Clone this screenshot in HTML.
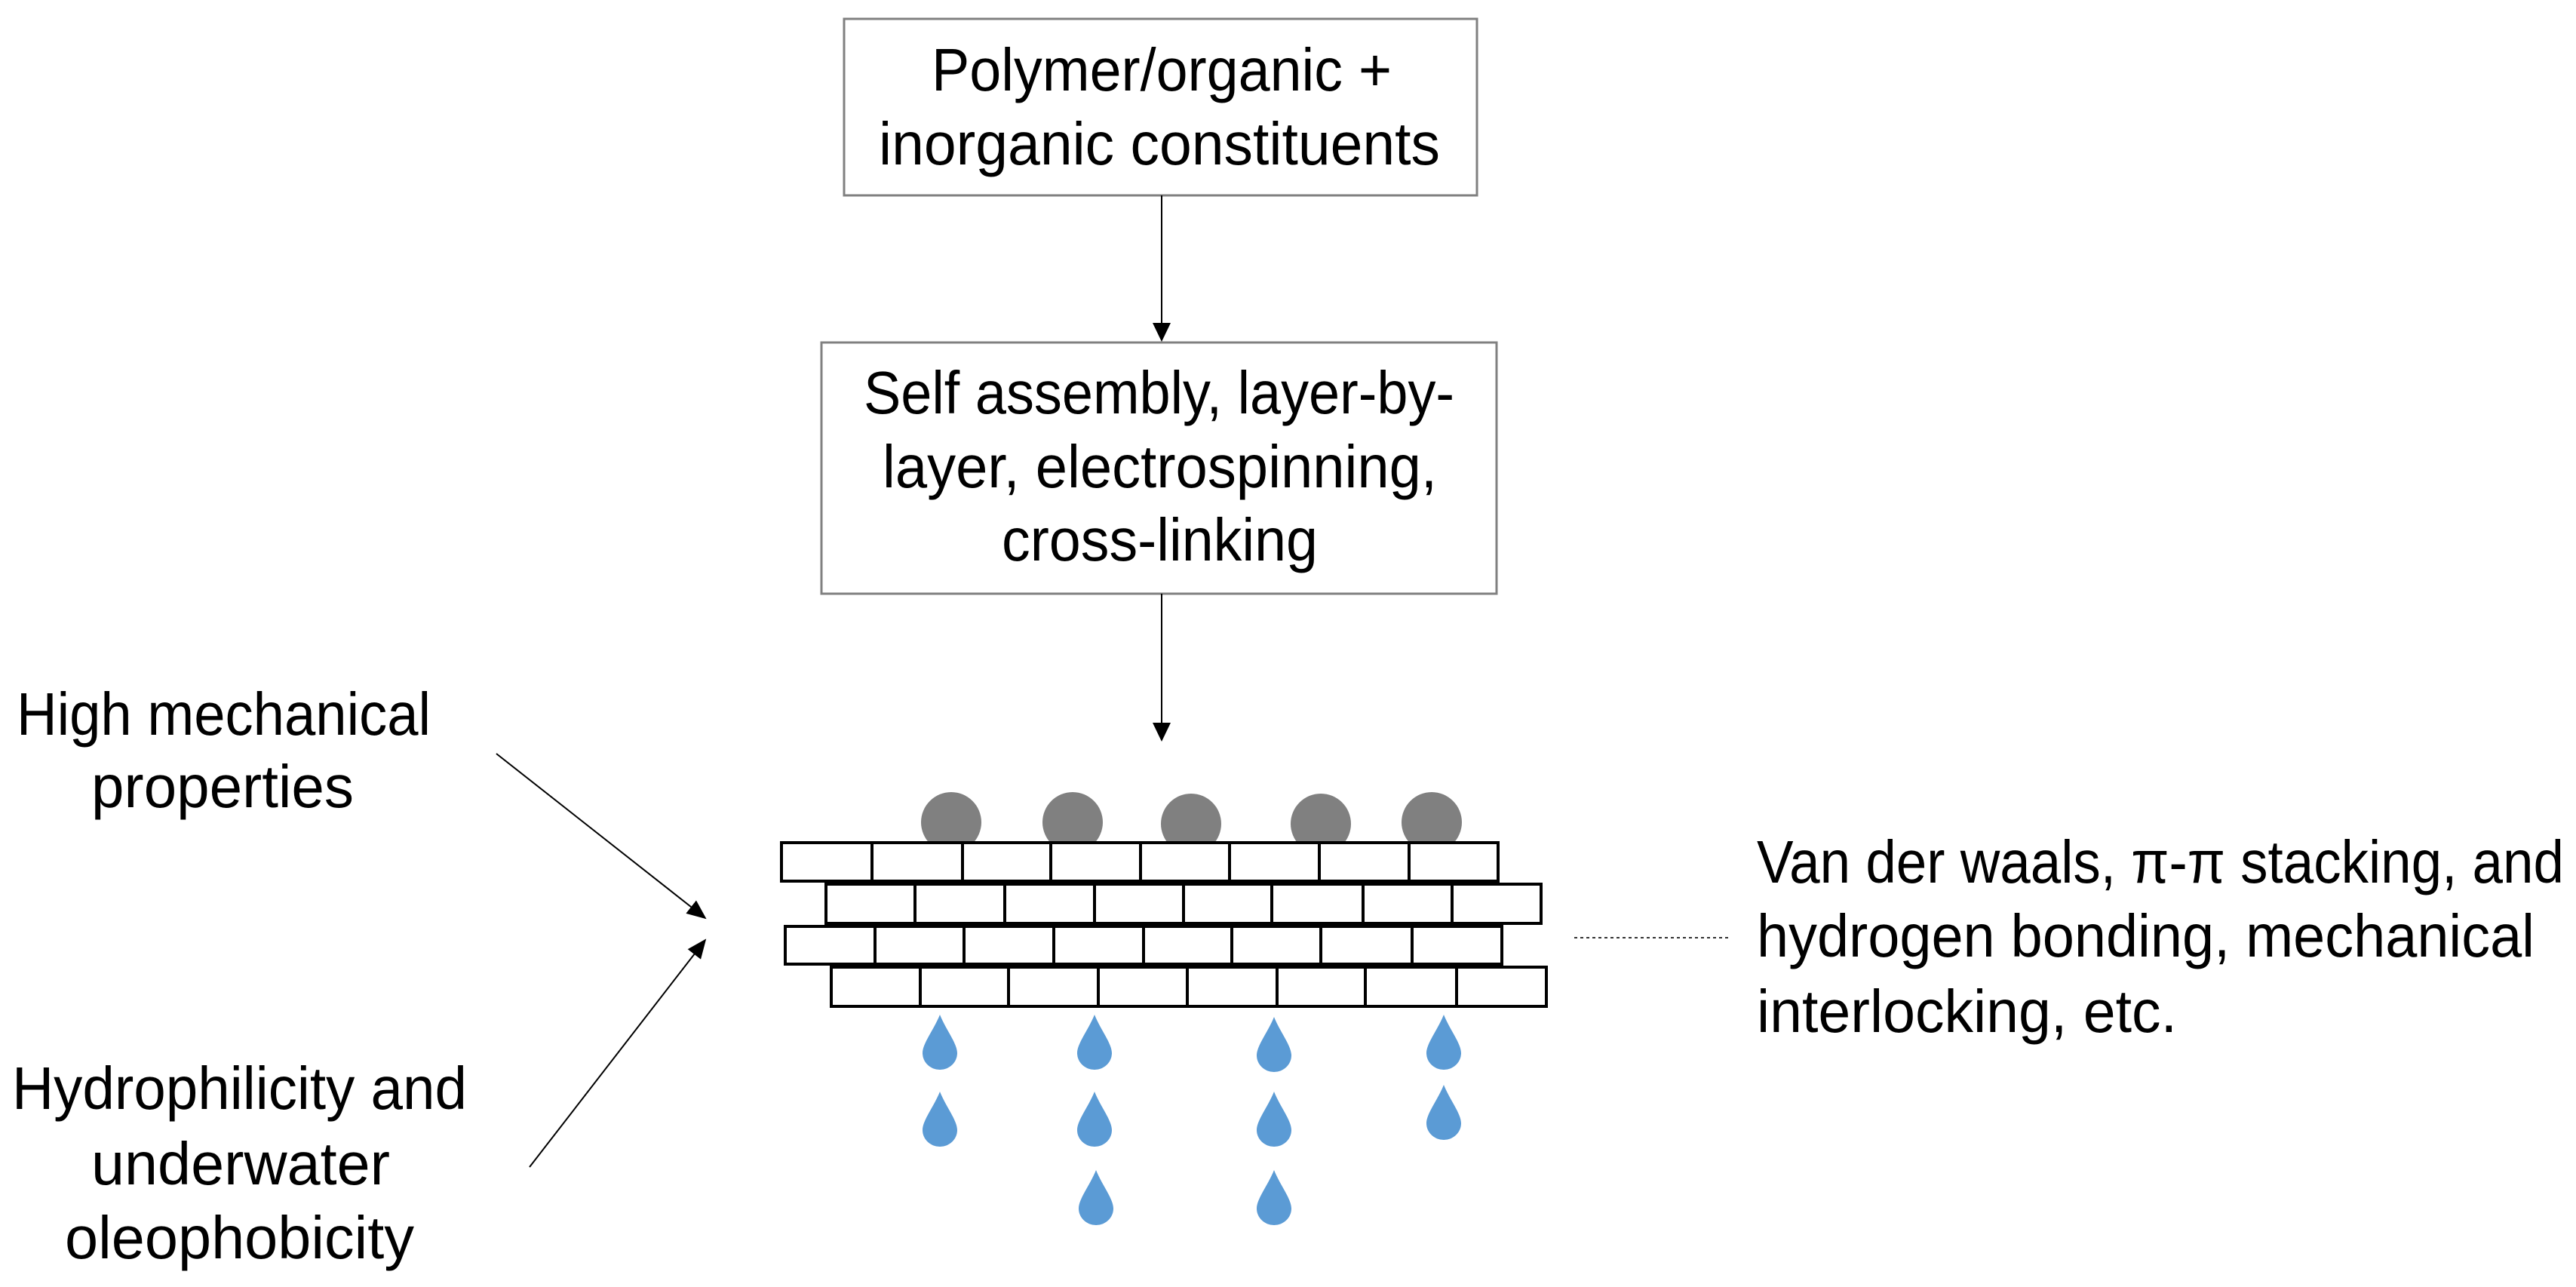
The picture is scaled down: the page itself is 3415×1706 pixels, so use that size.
<!DOCTYPE html>
<html><head><meta charset="utf-8"><style>
html,body{margin:0;padding:0;background:#fff;}
svg{display:block;}
text{font-family:"Liberation Sans",sans-serif;font-size:80px;fill:#000;}
</style></head><body>
<svg width="3415" height="1706" viewBox="0 0 3415 1706" xmlns="http://www.w3.org/2000/svg">
<defs>
<marker id="ah" markerWidth="26" markerHeight="22" refX="24" refY="11" orient="auto" markerUnits="userSpaceOnUse" viewBox="0 0 26 22">
<path d="M0,0 L26,11 L0,22 Z" fill="#000"/>
</marker>
<path id="drop" d="M0,0 C8,20 23,38 23,51 A23,22 0 0 1 -23,51 C-23,38 -8,20 0,0 Z" fill="#5b9bd5"/>
</defs>

<rect x="1119" y="25" width="839" height="234" fill="#fff" stroke="#808080" stroke-width="3"/>
<text x="1235" y="120" textLength="610" lengthAdjust="spacingAndGlyphs">Polymer/organic +</text>
<text x="1165" y="218" textLength="744" lengthAdjust="spacingAndGlyphs">inorganic constituents</text>

<rect x="1089" y="454" width="895" height="333" fill="#fff" stroke="#808080" stroke-width="3"/>
<text x="1145" y="548" textLength="783" lengthAdjust="spacingAndGlyphs">Self assembly, layer-by-</text>
<text x="1170" y="646" textLength="735" lengthAdjust="spacingAndGlyphs">layer, electrospinning,</text>
<text x="1328" y="743" textLength="419" lengthAdjust="spacingAndGlyphs">cross-linking</text>

<path d="M1540,259 L1540,430" stroke="#000" stroke-width="2"/>
<path d="M1528,428 L1552,428 L1540,453 Z" fill="#000"/>
<line x1="1540" y1="787" x2="1540" y2="960" stroke="#000" stroke-width="2"/>
<path d="M1528,958 L1552,958 L1540,983 Z" fill="#000"/>

<g fill="#808080">
<circle cx="1261" cy="1090" r="40"/>
<circle cx="1422" cy="1090" r="40"/>
<circle cx="1579" cy="1092" r="40"/>
<circle cx="1751" cy="1092" r="40"/>
<circle cx="1898" cy="1090" r="40"/>
</g>

<g fill="#fff" stroke="#000" stroke-width="4">
<rect x="1036" y="1117" width="120" height="51"/><rect x="1156" y="1117" width="120" height="51"/><rect x="1276" y="1117" width="117" height="51"/><rect x="1393" y="1117" width="119" height="51"/><rect x="1512" y="1117" width="118" height="51"/><rect x="1630" y="1117" width="119" height="51"/><rect x="1749" y="1117" width="119" height="51"/><rect x="1868" y="1117" width="118" height="51"/>
<rect x="1095" y="1172" width="118" height="52"/><rect x="1213" y="1172" width="119" height="52"/><rect x="1332" y="1172" width="119" height="52"/><rect x="1451" y="1172" width="118" height="52"/><rect x="1569" y="1172" width="117" height="52"/><rect x="1686" y="1172" width="121" height="52"/><rect x="1807" y="1172" width="118" height="52"/><rect x="1925" y="1172" width="118" height="52"/>
<rect x="1041" y="1228" width="119" height="50"/><rect x="1160" y="1228" width="118" height="50"/><rect x="1278" y="1228" width="119" height="50"/><rect x="1397" y="1228" width="119" height="50"/><rect x="1516" y="1228" width="117" height="50"/><rect x="1633" y="1228" width="118" height="50"/><rect x="1751" y="1228" width="121" height="50"/><rect x="1872" y="1228" width="119" height="50"/>
<rect x="1102" y="1282" width="118" height="52"/><rect x="1220" y="1282" width="117" height="52"/><rect x="1337" y="1282" width="119" height="52"/><rect x="1456" y="1282" width="118" height="52"/><rect x="1574" y="1282" width="119" height="52"/><rect x="1693" y="1282" width="117" height="52"/><rect x="1810" y="1282" width="121" height="52"/><rect x="1931" y="1282" width="119" height="52"/>
</g>

<use href="#drop" x="1246" y="1345"/><use href="#drop" x="1451" y="1345"/><use href="#drop" x="1689" y="1348"/><use href="#drop" x="1914" y="1345"/>
<use href="#drop" x="1246" y="1447"/><use href="#drop" x="1451" y="1447"/><use href="#drop" x="1689" y="1447"/><use href="#drop" x="1914" y="1438"/>
<use href="#drop" x="1453" y="1551"/><use href="#drop" x="1689" y="1551"/>

<line x1="658" y1="999" x2="935" y2="1217" stroke="#000" stroke-width="2" marker-end="url(#ah)"/>
<line x1="702" y1="1547" x2="935" y2="1246" stroke="#000" stroke-width="2" marker-end="url(#ah)"/>

<line x1="2087" y1="1243" x2="2294" y2="1243" stroke="#333" stroke-width="2" stroke-dasharray="4,4"/>

<text x="22" y="974" textLength="549" lengthAdjust="spacingAndGlyphs">High mechanical</text>
<text x="121" y="1070" textLength="348" lengthAdjust="spacingAndGlyphs">properties</text>
<text x="16" y="1470" textLength="603" lengthAdjust="spacingAndGlyphs">Hydrophilicity and</text>
<text x="121" y="1570" textLength="396" lengthAdjust="spacingAndGlyphs">underwater</text>
<text x="86" y="1668" textLength="463" lengthAdjust="spacingAndGlyphs">oleophobicity</text>

<text x="2329" y="1170" textLength="1070" lengthAdjust="spacingAndGlyphs">Van der waals, π-π stacking, and</text>
<text x="2329" y="1268" textLength="1031" lengthAdjust="spacingAndGlyphs">hydrogen bonding, mechanical</text>
<text x="2329" y="1368" textLength="557" lengthAdjust="spacingAndGlyphs">interlocking, etc.</text>
</svg>
</body></html>
